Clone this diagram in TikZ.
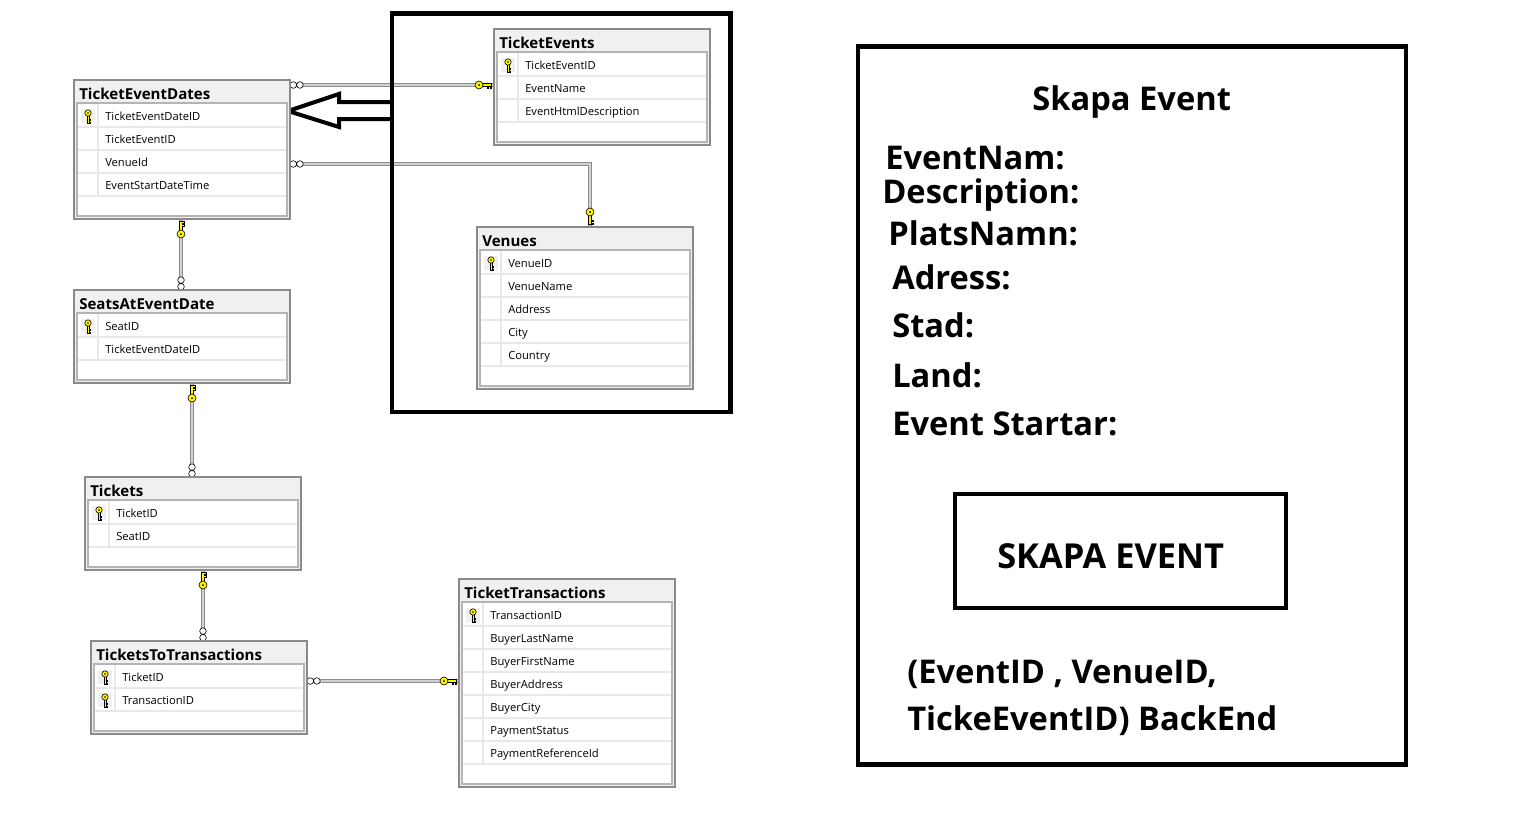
\documentclass[tikz,border=0pt]{standalone}
\usepackage{fontspec}
\setmainfont{Open Sans}
\usetikzlibrary{calc,positioning,backgrounds}
\definecolor{tframe}{HTML}{8A8A8A}
\definecolor{thead}{HTML}{F0F0F0}
\definecolor{tinner}{HTML}{B4B4B4}
\definecolor{tsep}{HTML}{E8E8E8}
\definecolor{keyyellow}{HTML}{FFF200}
\definecolor{linkgray}{HTML}{8C8C8C}
\def\keymark{k}
\tikzset{
  tbox/.style={draw=tframe,fill=thead,line width=1.1pt,anchor=north west,inner sep=0pt,outer sep=0pt,minimum width=162pt},
  tinbox/.style={draw=tinner,fill=white,line width=1.1pt},
  tsepline/.style={draw=tsep,line width=0.8pt},
  ttitle/.style={anchor=base west,inner sep=0pt,font=\bfseries\fontsize{11.3pt}{13pt}\selectfont},
  trow/.style={anchor=base west,inner sep=0pt,font=\fontsize{8.4pt}{10pt}\selectfont},
  tlink/.style={draw=linkgray,line width=0.9pt,double=white!82!black,double distance=1.3pt},
  bigframe/.style={draw=black,line width=3.3pt,anchor=north west,inner sep=0pt,outer sep=0pt},
  formtext/.style={anchor=base west,inner sep=0pt,font=\bfseries\fontsize{24.5pt}{29pt}\selectfont},
  hollowarr/.style={draw=black,line width=3pt,fill=white,line join=miter},
  dbkey/.pic={
    \draw[fill=keyyellow,line width=0.4pt] (3,-1.3) -- (12.5,-1.3) -- (12.5,2.8) -- (11,2.8) -- (11,1.3) -- (9.3,1.3) -- (9.3,2.8) -- (7.8,2.8) -- (7.8,1.3) -- (3,1.3) -- cycle;
    \draw[fill=keyyellow,line width=0.45pt] (0,0) circle (4);
    \fill (0,0) circle (1);
  },
  dbmany/.pic={
    \draw[fill=white,line width=0.45pt] (3.3,0) circle (3.3) (9.9,0) circle (3.3);
  }
}
\newcommand{\dbtable}[6]{%
  \pgfmathsetmacro{\tblh}{47+23*#4}
  \node[tbox,minimum height=\tblh*0.75pt] (#1) at (#2,#3) {};
  \node[ttitle] (#1-title) at ($(#1.north west)+(5,19)$) {#5};
  \draw[tinbox] ($(#1.north west)+(3,23)$) rectangle ($(#1.south east)+(-3,-3)$);
  \foreach [count=\i] \kf/\fld in {#6} {
    \draw[tsepline] ($(#1.north west)+(4,24+23*\i)$) -- ++(208,0);
    \ifx\kf\keymark
      \fill[thead] ($(#1.north west)+(7,6+23*\i)$) rectangle ++(14,14);
      \pic[rotate=-90,yscale=-1,scale=0.8] at ($(#1.north west)+(14,10+23*\i)$) {dbkey};
    \fi
    \node[trow] (#1-\i) at ($(#1.north west)+(31,17+23*\i)$) {\fld};
  }
  \draw[tsepline] ($(#1.north west)+(24,24)$) -- ++(0,23*#4);
}

\begin{document}
\begin{tikzpicture}[x=0.75pt,y=-0.75pt]
  \begin{scope}[on background layer]
    \fill[white] (0,0) rectangle (1536,821);
  \end{scope}
  \useasboundingbox (0,0) rectangle (1536,821);

  \dbtable{ted}{74}{80}{4}{TicketEventDates}{k/TicketEventDateID,n/TicketEventID,n/VenueId,n/EventStartDateTime}
  \dbtable{tev}{494}{29}{3}{TicketEvents}{k/TicketEventID,n/EventName,n/EventHtmlDescription}
  \dbtable{ven}{477}{227}{5}{Venues}{k/VenueID,n/VenueName,n/Address,n/City,n/Country}
  \dbtable{sae}{74}{290}{2}{SeatsAtEventDate}{k/SeatID,n/TicketEventDateID}
  \dbtable{tkt}{85}{477}{2}{Tickets}{k/TicketID,n/SeatID}
  \dbtable{ttt}{91}{641}{2}{TicketsToTransactions}{k/TicketID,k/TransactionID}
  \dbtable{ttr}{459}{579}{7}{TicketTransactions}{k/TransactionID,n/BuyerLastName,n/BuyerFirstName,n/BuyerAddress,n/BuyerCity,n/PaymentStatus,n/PaymentReferenceId}

  \node[bigframe,minimum width=253.9pt,minimum height=298.9pt] (grp) at (392,13.5) {};

  \coordinate (l1) at ($(ted.north east)+(0,5)$);
  \coordinate (l2) at ($(ted.north east)+(0,84)$);
  \coordinate (l2v) at ($(ven.north west)+(113,0)$);
  \coordinate (l3) at ($(ted.south west)+(107,0)$);
  \coordinate (l4) at ($(sae.south west)+(118,0)$);
  \coordinate (l5) at ($(tkt.south west)+(118,0)$);
  \coordinate (l6) at ($(ttt.north east)+(0,40)$);
  \coordinate (ah) at ($(ted.north east)+(0,31)$);
  \begin{scope}[on background layer]
    \draw[tlink] (l1) -- (l1 -| tev.west);
    \draw[tlink] (l2) -| (l2v);
    \draw[tlink] (l3) -- (l3 |- sae.north);
    \draw[tlink] (l4) -- (l4 |- tkt.north);
    \draw[tlink] (l5) -- (l5 |- ttt.north);
    \draw[tlink] (l6) -- (l6 -| ttr.west);
    \pic at (l1) {dbmany};
    \pic at ($(l1 -| tev.west)+(-15,0)$) {dbkey};
    \pic at (l2) {dbmany};
    \pic[rotate=-90,yscale=-1] at ($(l2v)+(0,-15)$) {dbkey};
    \pic[rotate=90] at ($(l3)+(0,15)$) {dbkey};
    \pic[rotate=90] at (l3 |- sae.north) {dbmany};
    \pic[rotate=90] at ($(l4)+(0,15)$) {dbkey};
    \pic[rotate=90] at (l4 |- tkt.north) {dbmany};
    \pic[rotate=90] at ($(l5)+(0,15)$) {dbkey};
    \pic[rotate=90] at (l5 |- ttt.north) {dbmany};
    \pic at (l6) {dbmany};
    \pic at ($(l6 -| ttr.west)+(-15,0)$) {dbkey};
    \draw[hollowarr] ($(ah -| grp.west)+(0,-9)$) -- ($(ah)+(49,-9)$) -- ($(ah)+(49,-17)$) -- ($(ah)+(-2,0)$)
      -- ($(ah)+(49,16)$) -- ($(ah)+(49,8)$) -- ($(ah -| grp.west)+(0,8)$);
  \end{scope}

  \node[bigframe,minimum width=411pt,minimum height=538.5pt] (form) at (858,46.5) {};
  \node[bigframe,minimum width=248.25pt,minimum height=85.5pt] (btn) at (955,494) {};
  \node[formtext] (ftitle) at (1032,110) {Skapa Event};
  \foreach \nm/\xx/\yy/\txt in {fname/885/169/EventNam:,fdesc/882/203/Description:,fplace/888/245/PlatsNamn:,
      faddr/892/289/Adress:,fcity/892/337/Stad:,fland/892/387/Land:,fstart/892/435/Event Startar:}{
    \node[formtext] (\nm) at (\xx,\yy) {\txt};
  }
  \node[formtext,font=\bfseries\fontsize{25.8pt}{30pt}\selectfont] (btnlbl) at (997,568) {SKAPA EVENT};
  \node[formtext] (fnote1) at (907,683) {(EventID , VenueID,};
  \node[formtext] (fnote2) at (907,730) {TickeEventID) BackEnd};
\end{tikzpicture}
\end{document}
